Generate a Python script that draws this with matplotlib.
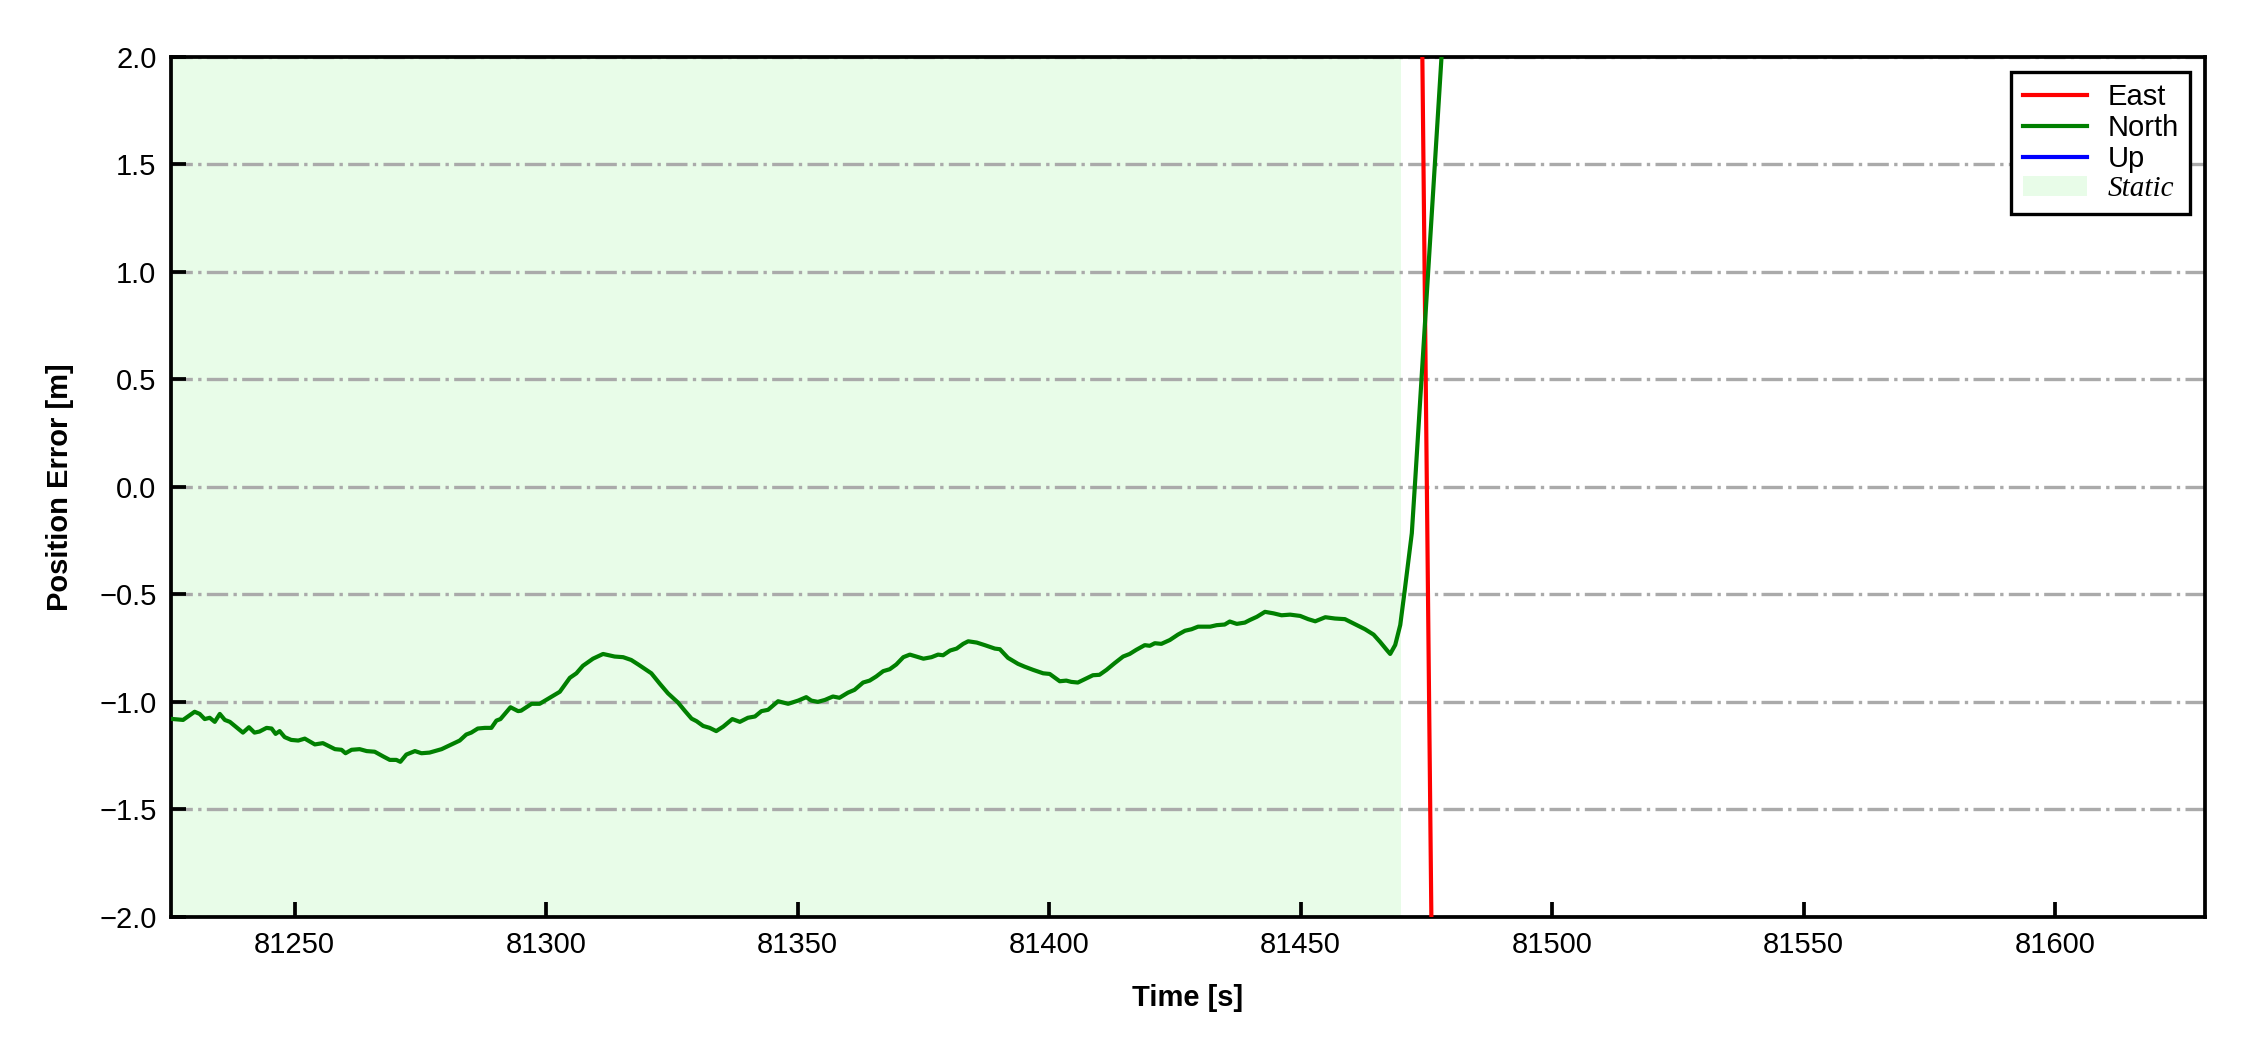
import matplotlib
matplotlib.use("Agg")
import matplotlib.pyplot as plt
from matplotlib.ticker import ScalarFormatter

plt.rcParams['font.family'] = ['Liberation Sans', 'DejaVu Sans']
plt.rcParams['axes.unicode_minus'] = True

# ---------------- data ----------------
north_t = [81225.4, 81227.8, 81230.1, 81231.1, 81232.1, 81233.1, 81234.1, 81235.1, 81236.1, 81237.1,
           81238.4, 81239.7, 81240.9, 81242.0, 81243.0, 81244.4, 81245.4, 81246.2, 81247.0, 81248.0,
           81249.3, 81250.7, 81252.0, 81254.0, 81255.6, 81258.0, 81259.3, 81260.1, 81261.3, 81262.9,
           81264.3, 81265.9, 81267.6, 81268.9, 81270.2, 81271.0, 81272.2, 81273.9, 81275.2, 81276.8,
           81279.2, 81281.2, 81282.8, 81284.1, 81285.1, 81286.4, 81287.8, 81289.1, 81290.1, 81290.9,
           81292.9, 81294.4, 81295.0, 81297.1, 81298.7, 81300.7, 81302.7, 81304.7, 81306.0, 81307.3,
           81309.3, 81311.3, 81313.6, 81315.3, 81316.9, 81318.3, 81320.9, 81322.6, 81324.2, 81326.2,
           81327.5, 81328.9, 81329.9, 81331.2, 81332.5, 81333.8, 81335.2, 81337.0, 81338.5, 81340.1,
           81341.5, 81342.8, 81344.1, 81346.1, 81348.1, 81350.1, 81351.7, 81352.7, 81354.0, 81355.4,
           81357.0, 81358.3, 81360.0, 81361.3, 81363.0, 81364.3, 81365.6, 81367.0, 81368.3, 81369.6,
           81371.0, 81372.3, 81373.6, 81375.0, 81376.6, 81377.9, 81378.9, 81380.3, 81381.6, 81382.9,
           81383.9, 81385.6, 81387.2, 81389.2, 81390.2, 81391.8, 81393.8, 81395.1, 81396.8, 81398.8,
           81400.1, 81402.1, 81403.4, 81404.4, 81405.7, 81407.4, 81408.7, 81410.0, 81411.4, 81413.0,
           81414.7, 81416.0, 81417.3, 81419.0, 81420.0, 81421.0, 81422.3, 81424.0, 81425.6, 81427.0,
           81428.3, 81429.6, 81432.0, 81433.3, 81434.9, 81435.9, 81437.3, 81438.9, 81439.9, 81441.3,
           81442.9, 81444.6, 81446.2, 81447.9, 81449.9, 81451.5, 81452.9, 81454.9, 81456.8, 81458.8,
           81461.2, 81462.8, 81464.5, 81465.8, 81467.1, 81467.8, 81468.8, 81469.8, 81470.7, 81472.1,
           81472.8, 81478.0, 81482.0]
north_v = [-1.080, -1.085, -1.047, -1.057, -1.081, -1.075, -1.094, -1.057, -1.085, -1.094,
           -1.119, -1.144, -1.119, -1.144, -1.139, -1.122, -1.125, -1.150, -1.137, -1.165,
           -1.178, -1.181, -1.172, -1.199, -1.193, -1.221, -1.224, -1.240, -1.224, -1.221,
           -1.230, -1.233, -1.255, -1.271, -1.271, -1.280, -1.246, -1.230, -1.240, -1.237,
           -1.221, -1.199, -1.181, -1.153, -1.144, -1.125, -1.122, -1.122, -1.088, -1.081,
           -1.026, -1.044, -1.042, -1.010, -1.010, -0.982, -0.954, -0.889, -0.868, -0.833,
           -0.800, -0.778, -0.790, -0.793, -0.806, -0.827, -0.868, -0.917, -0.961, -1.004,
           -1.041, -1.079, -1.091, -1.113, -1.122, -1.137, -1.116, -1.081, -1.094, -1.075,
           -1.069, -1.044, -1.038, -0.998, -1.010, -0.995, -0.979, -0.995, -1.001, -0.992,
           -0.976, -0.982, -0.958, -0.945, -0.911, -0.902, -0.883, -0.858, -0.849, -0.827,
           -0.793, -0.781, -0.790, -0.800, -0.793, -0.781, -0.784, -0.762, -0.753, -0.731,
           -0.719, -0.725, -0.737, -0.753, -0.756, -0.796, -0.824, -0.837, -0.852, -0.868,
           -0.871, -0.905, -0.902, -0.908, -0.911, -0.892, -0.877, -0.875, -0.852, -0.821,
           -0.790, -0.778, -0.759, -0.737, -0.740, -0.728, -0.731, -0.713, -0.688, -0.670,
           -0.663, -0.651, -0.651, -0.644, -0.641, -0.627, -0.638, -0.632, -0.620, -0.605,
           -0.582, -0.589, -0.598, -0.595, -0.601, -0.616, -0.626, -0.607, -0.613, -0.616,
           -0.644, -0.663, -0.688, -0.722, -0.759, -0.778, -0.736, -0.643, -0.480, -0.216,
           0.040, 2.000, 3.500]

east_t = [81472.0, 81478.0]
east_v = [6.9, -6.5]

up_t = []
up_v = []

static_start = 81225.4
static_end = 81470.0

x_limits = (81225.4, 81629.8)
y_limits = (-2.0, 2.0)
x_ticks = [81250, 81300, 81350, 81400, 81450, 81500, 81550, 81600]
y_ticks = [-2.0, -1.5, -1.0, -0.5, 0.0, 0.5, 1.0, 1.5, 2.0]

# ---------------- plot ----------------
fig = plt.figure(figsize=(7.5, 3.5), dpi=300)
ax = fig.add_axes([0.076, 0.1271, 0.904, 0.8186])

ax.axvspan(static_start, static_end, facecolor='#e8fce8', edgecolor='none',
           zorder=0, label='Static')
ax.plot(east_t, east_v, color='red', lw=1.0, label='East', zorder=3)
ax.plot(north_t, north_v, color='green', lw=1.0, label='North', zorder=3)
ax.plot(up_t, up_v, color='blue', lw=1.0, label='Up', zorder=3)

ax.set_xlim(*x_limits)
ax.set_ylim(*y_limits)
ax.set_xticks(x_ticks)
ax.set_yticks(y_ticks)
ax.xaxis.set_major_formatter(ScalarFormatter(useOffset=False))

ax.yaxis.grid(True, linestyle='-.', color='#aaaaaa', linewidth=0.8, zorder=1)
ax.set_axisbelow(True)

ax.tick_params(direction='in', length=3.5, width=0.9, labelsize=7, top=False, right=False)
for s in ax.spines.values():
    s.set_linewidth(0.9)

ax.set_xlabel('Time [s]', fontsize=7, fontweight='bold', labelpad=6)
ax.set_ylabel('Position Error [m]', fontsize=7, fontweight='bold', labelpad=6)

handles, labels = ax.get_legend_handles_labels()
order = [labels.index(n) for n in ['East', 'North', 'Up', 'Static']]
leg = ax.legend([handles[i] for i in order], [labels[i] for i in order],
                loc='upper right', fontsize=7, fancybox=False, framealpha=1,
                edgecolor='black', labelspacing=0.1, handlelength=2.2,
                handletextpad=0.7, borderpad=0.4)
leg.get_frame().set_linewidth(0.8)
for txt in leg.get_texts():
    if txt.get_text() == 'Static':
        txt.set_fontfamily(['Liberation Serif', 'DejaVu Serif'])
        txt.set_fontstyle('italic')

fig.savefig('out.png', dpi=300)
